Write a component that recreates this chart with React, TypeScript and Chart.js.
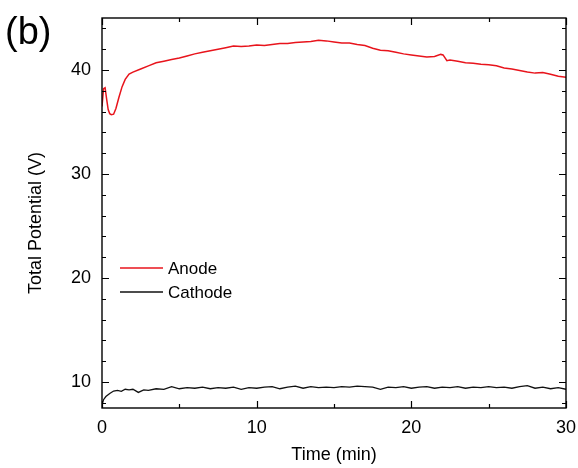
import React, { useEffect, useRef } from "react";
import { Chart, registerables } from "chart.js";

Chart.register(...registerables);

// ---- Data ----
const anodeTime = [
  0, 0.1, 0.2, 0.3, 0.4, 0.5, 0.6, 0.75, 0.9, 1.1, 1.3, 1.5, 1.75, 2.0, 2.5, 3, 3.5, 4, 4.5, 5,
  5.5, 6, 6.5, 7, 7.5, 8, 8.5, 9, 9.5, 10, 10.5, 11, 11.5, 12, 12.5, 13, 13.5, 14, 14.5, 15,
  15.5, 16, 16.5, 17, 17.5, 18, 18.5, 19, 19.5, 20, 20.5, 21, 21.5, 21.9, 22.05, 22.3, 22.5, 23,
  23.5, 24, 24.5, 25, 25.5, 26, 26.5, 27, 27.5, 28, 28.5, 29, 29.5, 30,
];
const anodeV = [
  36.5, 38.2, 38.3, 37.2, 36.2, 35.8, 35.7, 35.75, 36.3, 37.4, 38.4, 39.1, 39.6, 39.8, 40.1, 40.4,
  40.7, 40.85, 41.0, 41.15, 41.35, 41.55, 41.7, 41.85, 42.0, 42.15, 42.3, 42.25, 42.3, 42.4, 42.35,
  42.45, 42.55, 42.55, 42.65, 42.7, 42.75, 42.85, 42.8, 42.7, 42.6, 42.6, 42.45, 42.35, 42.1, 41.9,
  41.85, 41.7, 41.55, 41.45, 41.35, 41.25, 41.3, 41.5, 41.45, 40.9, 40.95, 40.85, 40.7, 40.65, 40.55,
  40.5, 40.4, 40.2, 40.1, 39.95, 39.8, 39.7, 39.75, 39.6, 39.4, 39.3,
];

const cathodeTime = [
  0, 0.1, 0.25, 0.5, 0.75, 1.0, 1.25, 1.5, 1.75, 2.0, 2.35, 2.7, 3.0, 3.5, 4.0, 4.5, 5, 5.5, 6, 6.5,
  7, 7.5, 8, 8.5, 9, 9.5, 10, 10.5, 11, 11.5, 12, 12.5, 13, 13.5, 14, 14.5, 15, 15.5, 16, 16.5, 17,
  17.5, 18, 18.5, 19, 19.5, 20, 20.5, 21, 21.5, 22, 22.5, 23, 23.5, 24, 24.5, 25, 25.5, 26, 26.5,
  27, 27.5, 28, 28.5, 29, 29.5, 30,
];
const cathodeV = [
  7.8, 8.3, 8.6, 8.9, 9.13, 9.2, 9.1, 9.3, 9.25, 9.3, 9.0, 9.25, 9.2, 9.35, 9.3, 9.55, 9.35, 9.45,
  9.4, 9.5, 9.35, 9.45, 9.4, 9.5, 9.3, 9.45, 9.4, 9.5, 9.55, 9.35, 9.5, 9.6, 9.4, 9.55, 9.45, 9.5,
  9.45, 9.55, 9.5, 9.6, 9.55, 9.5, 9.3, 9.5, 9.45, 9.55, 9.4, 9.5, 9.55, 9.4, 9.5, 9.45, 9.55, 9.4,
  9.5, 9.45, 9.55, 9.45, 9.5, 9.4, 9.55, 9.65, 9.4, 9.5, 9.35, 9.45, 9.3,
];

const xMajorTicks = [0, 10, 20, 30];
const xMinorTicks = [5, 15, 25];
const yMajorTicks = [10, 20, 30, 40];
const yMinorTicks = [8, 12, 14, 16, 18, 22, 24, 26, 28, 32, 34, 36, 38, 42, 44];

const seriesLabels = ["Anode", "Cathode"];
const seriesColors = ["#e8141c", "#111111"];
const panelLabel = "(b)";
const xTitle = "Time (min)";
const yTitle = "Total Potential (V)";

const FONT = "'Liberation Sans', Arial, sans-serif";

const decorPlugin = {
  id: "decor",
  afterDatasetsDraw(chart: any) {
    const { ctx, chartArea, scales } = chart;
    const { left, right, top, bottom } = chartArea;
    const xs = scales.x;
    const ys = scales.y;
    ctx.save();
    ctx.strokeStyle = "#000";
    ctx.lineWidth = 1.4;
    ctx.strokeRect(left, top, right - left, bottom - top);

    ctx.lineWidth = 1.2;
    ctx.beginPath();
    const major = 7;
    const minor = 4;
    const xt = (v: number, len: number) => {
      const px = Math.round(xs.getPixelForValue(v)) + 0.5;
      ctx.moveTo(px, bottom);
      ctx.lineTo(px, bottom - len);
      ctx.moveTo(px, top);
      ctx.lineTo(px, top + len);
    };
    const yt = (v: number, len: number) => {
      const py = Math.round(ys.getPixelForValue(v)) + 0.5;
      ctx.moveTo(left, py);
      ctx.lineTo(left + len, py);
      ctx.moveTo(right, py);
      ctx.lineTo(right - len, py);
    };
    xMajorTicks.forEach((v) => xt(v, major));
    xMinorTicks.forEach((v) => xt(v, minor));
    yMajorTicks.forEach((v) => yt(v, major));
    yMinorTicks.forEach((v) => yt(v, minor));
    ctx.stroke();

    // Legend inside the plot
    const legY = [ys.getPixelForValue(20.96), ys.getPixelForValue(18.65)];
    ctx.font = `17px ${FONT}`;
    ctx.textBaseline = "middle";
    ctx.textAlign = "left";
    seriesLabels.forEach((lab, i) => {
      ctx.strokeStyle = seriesColors[i];
      ctx.lineWidth = 1.5;
      ctx.beginPath();
      ctx.moveTo(120, legY[i]);
      ctx.lineTo(163, legY[i]);
      ctx.stroke();
      ctx.fillStyle = "#000";
      ctx.fillText(lab, 168, legY[i] + 1);
    });

    // Axis titles
    ctx.fillStyle = "#000";
    ctx.font = `18px ${FONT}`;
    ctx.textAlign = "center";
    ctx.textBaseline = "middle";
    ctx.fillText(xTitle, (left + right) / 2, 455);
    ctx.save();
    ctx.translate(36, 223);
    ctx.rotate(-Math.PI / 2);
    ctx.fillText(yTitle, 0, 0);
    ctx.restore();

    // Panel label
    ctx.font = `38px ${FONT}`;
    ctx.textAlign = "left";
    ctx.textBaseline = "middle";
    ctx.fillText(panelLabel, 5, 34);
    ctx.restore();
  },
};

export default function App() {
  const ref = useRef<HTMLCanvasElement | null>(null);
  useEffect(() => {
    document.body.style.margin = "0";
    const canvas = ref.current!;
    const chart = new Chart(canvas, {
      type: "line",
      data: {
        datasets: [
          {
            label: seriesLabels[0],
            data: anodeTime.map((t, i) => ({ x: t, y: anodeV[i] })),
            borderColor: seriesColors[0],
            borderWidth: 1.5,
            pointRadius: 0,
            tension: 0,
          },
          {
            label: seriesLabels[1],
            data: cathodeTime.map((t, i) => ({ x: t, y: cathodeV[i] })),
            borderColor: seriesColors[1],
            borderWidth: 1.3,
            pointRadius: 0,
            tension: 0,
          },
        ],
      },
      options: {
        responsive: false,
        animation: false,
        layout: { padding: { top: 18, right: 12, left: 0, bottom: 0 } },
        plugins: { legend: { display: false }, tooltip: { enabled: false } },
        scales: {
          x: {
            type: "linear",
            min: 0,
            max: 30,
            grid: { display: false, drawTicks: false },
            border: { display: false },
            ticks: { font: { size: 18, family: FONT }, color: "#000", padding: 9, maxRotation: 0 },
            afterBuildTicks: (s: any) => {
              s.ticks = xMajorTicks.map((v) => ({ value: v }));
            },
            afterFit: (s: any) => {
              s.height = 60;
              s.paddingLeft = 0;
              s.paddingRight = 0;
            },
          },
          y: {
            type: "linear",
            min: 7.5,
            max: 45,
            grid: { display: false, drawTicks: false },
            border: { display: false },
            ticks: { font: { size: 18, family: FONT }, color: "#000", padding: 11 },
            afterBuildTicks: (s: any) => {
              s.ticks = yMajorTicks.map((v) => ({ value: v }));
            },
            afterFit: (s: any) => {
              s.width = 102;
              s.paddingTop = 0;
              s.paddingBottom = 0;
            },
          },
        },
      } as any,
      plugins: [decorPlugin],
    });
    return () => chart.destroy();
  }, []);
  return (
    <div style={{ position: "fixed", left: 0, top: 0, width: 578, height: 468, background: "#fff" }}>
      <canvas ref={ref} width={578} height={468} style={{ width: 578, height: 468 }} />
    </div>
  );
}
